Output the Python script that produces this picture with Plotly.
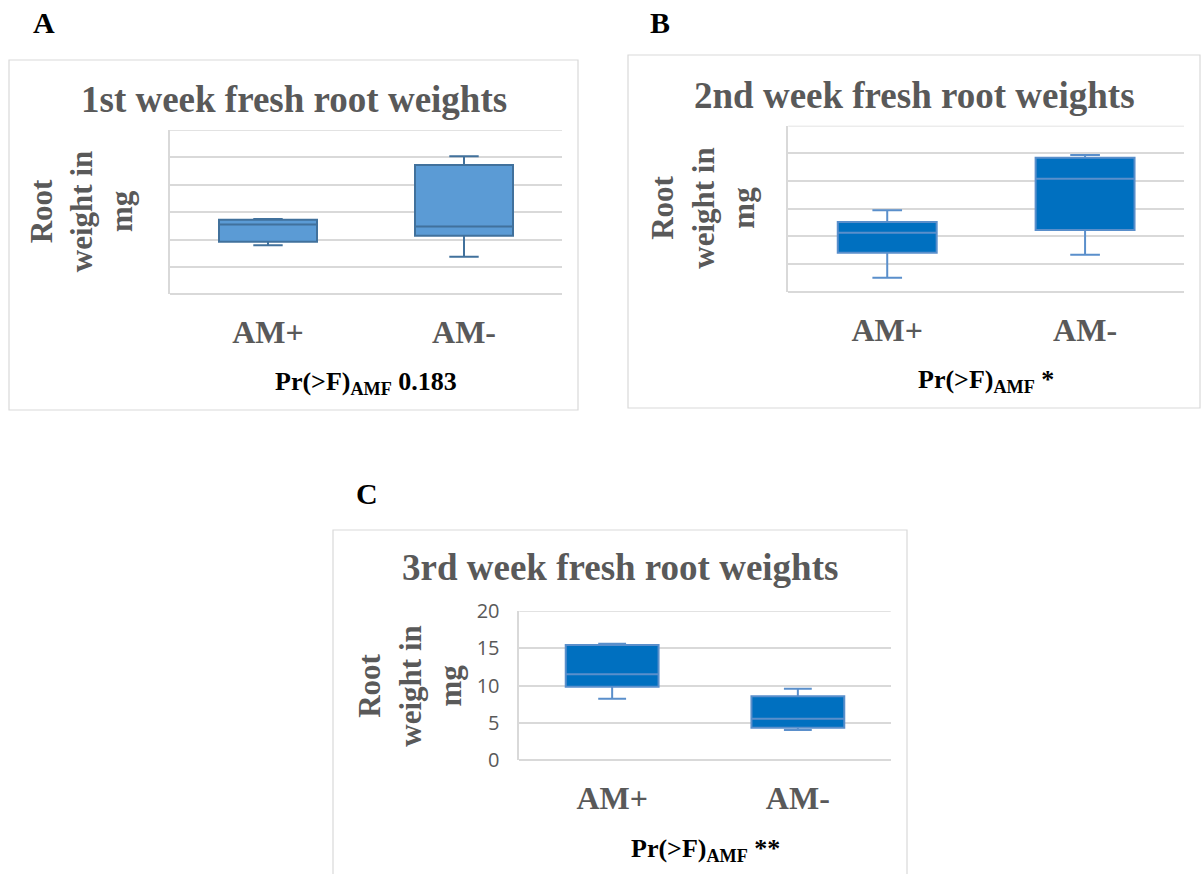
import plotly.graph_objects as go

W, H = 1202, 874

categories = ["AM+", "AM-"]

# Panel A (1st week) (axis units unlabelled)
a_q1 = [1.92, 2.14]
a_med = [2.55, 2.48]
a_q3 = [2.72, 4.72]
a_low = [1.79, 1.37]
a_up = [2.75, 5.04]

# Panel B (2nd week)
b_q1 = [1.41, 2.23]
b_med = [2.13, 4.08]
b_q3 = [2.52, 4.84]
b_low = [0.50, 1.34]
b_up = [2.94, 4.94]

# Panel C (3rd week), mg
c_q1 = [9.86, 4.37]
c_med = [11.52, 5.57]
c_q3 = [15.44, 8.57]
c_low = [8.25, 4.06]
c_up = [15.62, 9.59]

titles = ["1st week fresh root weights", "2nd week fresh root weights", "3rd week fresh root weights"]
pvals = ["0.183", "*", "**"]
letters = ["A", "B", "C"]
ab_ticks = [0, 1, 2, 3, 4, 5, 6]
c_ticks = [0, 5, 10, 15, 20]


def px(x):
    return x / W


def py(y):
    return 1 - y / H


GRID = "#D9D9D9"
GRAY = "#595959"
SERIF = "Liberation Serif"

fig = go.Figure()

panels = [
    dict(q1=a_q1, med=a_med, q3=a_q3, lo=a_low, up=a_up, fill="#5B9BD5", line="#41719C",
         plot=(170, 562, 130, 294.3), rng=[0, 6], tv=ab_ticks, ticks=False,
         box=(9, 578, 60, 410), title_y=100, ytitle_x=82, pr_y=383, letter=(44, 22)),
    dict(q1=b_q1, med=b_med, q3=b_q3, lo=b_low, up=b_up, fill="#0070C0", line="#5A8FCB",
         plot=(788.3, 1184, 125.7, 291.7), rng=[0, 6], tv=ab_ticks, ticks=False,
         box=(628, 1200, 55, 408), title_y=95, ytitle_x=703, pr_y=381, letter=(660, 22)),
    dict(q1=c_q1, med=c_med, q3=c_q3, lo=c_low, up=c_up, fill="#0070C0", line="#5A8FCB",
         plot=(519.3, 890.7, 611, 760.3), rng=[0, 20], tv=c_ticks, ticks=True,
         box=(333, 907, 530, 890), title_y=567, ytitle_x=410, pr_y=850, letter=(367, 494)),
]

layout = dict(
    width=W, height=H, autosize=False,
    margin=dict(l=0, r=0, t=0, b=0, pad=0, autoexpand=False),
    paper_bgcolor="white", plot_bgcolor="white",
    showlegend=False,
    shapes=[], annotations=[],
)

for i, p in enumerate(panels):
    n = "" if i == 0 else str(i + 1)
    x0, x1, y0, y1 = p["plot"]
    fig.add_trace(go.Box(
        x=categories, q1=p["q1"], median=p["med"], q3=p["q3"],
        lowerfence=p["lo"], upperfence=p["up"],
        fillcolor=p["fill"], line=dict(color=p["line"], width=2),
        width=0.5, whiskerwidth=0.3, boxpoints=False,
        xaxis="x" + n, yaxis="y" + n, hoverinfo="skip",
    ))
    layout["xaxis" + n] = dict(
        domain=[px(x0), px(x1)], anchor="y" + n, type="category",
        categoryorder="array", categoryarray=categories, range=[-0.5, 1.5],
        showgrid=False, showline=False, zeroline=False, ticks="", automargin=False,
        tickfont=dict(family=SERIF, size=32, color=GRAY, weight="bold"),
        ticklabelstandoff=16,
    )
    yax = dict(
        domain=[py(y1), py(y0)], anchor="x" + n, range=p["rng"], tickvals=p["tv"],
        showgrid=True, gridcolor=GRID, gridwidth=1.5,
        zeroline=True, zerolinecolor=GRID, zerolinewidth=1.5,
        showline=True, linecolor=GRID, linewidth=1.5, ticks="", automargin=False,
        showticklabels=p["ticks"],
    )
    if p["ticks"]:
        yax.update(tickfont=dict(family="Open Sans", size=20, color=GRAY),
                   ticklabelstandoff=14)
    layout["yaxis" + n] = yax

    # top gridline (edge) drawn along the axis as a shape tied to the y axis
    layout["shapes"].append(dict(type="line", xref="x" + n + " domain", yref="y" + n,
                                 x0=0, x1=1, y0=p["rng"][1], y1=p["rng"][1],
                                 line=dict(color=GRID, width=1.5), layer="below"))

    bx0, bx1, by0, by1 = p["box"]
    layout["shapes"].append(dict(type="rect", xref="paper", yref="paper",
                                 x0=px(bx0), x1=px(bx1), y0=py(by1), y1=py(by0),
                                 line=dict(color=GRID, width=1.2), layer="below"))
    cx = (bx0 + bx1) / 2
    layout["annotations"].append(dict(
        text=titles[i], x=px(cx), y=py(p["title_y"]), xref="paper", yref="paper",
        xanchor="center", yanchor="middle", showarrow=False,
        font=dict(family=SERIF, size=37, color=GRAY, weight="bold")))
    layout["annotations"].append(dict(
        text="Root<br>weight in<br>mg", x=px(p["ytitle_x"]), y=py((y0 + y1) / 2),
        xref="paper", yref="paper", xanchor="center", yanchor="middle", showarrow=False,
        textangle=-90,
        font=dict(family=SERIF, size=31, color=GRAY, weight="bold")))
    layout["annotations"].append(dict(
        text="Pr(>F)<sub>AMF</sub> " + pvals[i], x=px((x0 + x1) / 2), y=py(p["pr_y"]),
        xref="paper", yref="paper", xanchor="center", yanchor="middle", showarrow=False,
        font=dict(family=SERIF, size=26, color="black", weight="bold")))
    lx, ly = p["letter"]
    layout["annotations"].append(dict(
        text=letters[i], x=px(lx), y=py(ly), xref="paper", yref="paper",
        xanchor="center", yanchor="middle", showarrow=False,
        font=dict(family=SERIF, size=30, color="black", weight="bold")))

fig.update_layout(**layout)
fig.write_html("out.html")
